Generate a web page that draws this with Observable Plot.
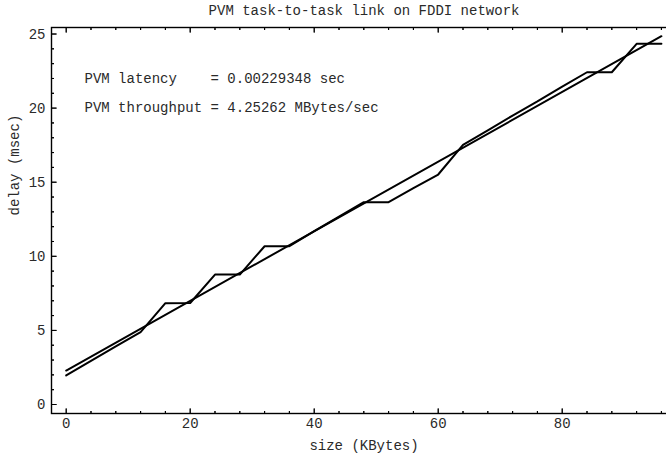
<!DOCTYPE html>
<html><head><meta charset="utf-8">
<script src="https://cdn.jsdelivr.net/npm/d3@7"></script>
<script src="https://cdn.jsdelivr.net/npm/@observablehq/plot@0.6"></script>
<style>
html,body{margin:0;padding:0;background:#fff;overflow:hidden}
svg text{white-space:pre}
</style>
</head><body><div id="chart"></div>
<script>
const title = "PVM task-to-task link on FDDI network";
const xLabel = "size (KBytes)";
const yLabel = "delay (msec)";
const notes = ["PVM latency    = 0.00229348 sec", "PVM throughput = 4.25262 MBytes/sec"];

// measured delays
const sizes    = [0, 4, 8, 12, 16, 20, 24, 28, 32, 36, 40, 44, 48, 52, 56, 60, 64, 68, 72, 76, 80, 84, 88, 92, 96];
const measured = [1.96, 2.94, 3.92, 4.88, 6.84, 6.85, 8.77, 8.77, 10.68, 10.68, 11.7, 12.68, 13.65, 13.65, 14.6, 15.52, 17.52, 18.5, 19.5, 20.45, 21.45, 22.42, 22.42, 24.34, 24.34];

// fitted line
const fitSizes = [0, 96];
const fitDelay = [2.29, 24.85];

const xMajor = [0, 20, 40, 60, 80];
const xMinor = [4, 8, 12, 16, 24, 28, 32, 36, 44, 48, 52, 56, 64, 68, 72, 76, 84, 88, 92, 96];
const yMajor = [0, 5, 10, 15, 20, 25];
const yMinor = [1, 2, 3, 4, 6, 7, 8, 9, 11, 12, 13, 14, 16, 17, 18, 19, 21, 22, 23, 24];

const measTable = sizes.map((s, i) => ({size: s, delay: measured[i]}));
const fitTable = fitSizes.map((s, i) => ({size: s, delay: fitDelay[i]}));

const font = "Liberation Mono, Courier New, monospace";
const textColor = "#2a2a2a";

// inward tick helper: a spike of zero width is a plain line segment
const tick = (data, channel, frameAnchor, rotate, length) =>
  Plot.vector(data, {
    [channel]: d => d, frameAnchor, rotate, length, anchor: "start",
    shape: "spike", r: 0, stroke: "#000", strokeWidth: 1, fill: "none"
  });

const chart = Plot.plot({
  width: 666,
  height: 457,
  marginLeft: 51,
  marginRight: 0,
  marginTop: 27,
  marginBottom: 44,
  style: {fontFamily: font, fontSize: "14px", color: "#000", background: "#fff"},
  x: {domain: [-2.37, 96.82], axis: null},
  y: {domain: [-0.607, 25.44], axis: null},
  marks: [
    Plot.frame({stroke: "#000", strokeWidth: 1.4, insetRight: -4}),
    // tick labels
    Plot.axisX(xMajor, {anchor: "bottom", tickSize: 0, tickPadding: 5, label: null, fill: textColor}),
    Plot.axisY(yMajor, {anchor: "left", tickSize: 0, tickPadding: 6, label: null, fill: textColor}),
    // inward ticks
    tick(xMajor, "x", "bottom", 0, 5),
    tick(xMinor, "x", "bottom", 0, 2.5),
    tick(xMajor, "x", "top", 180, 5),
    tick(xMinor, "x", "top", 180, 2.5),
    tick(yMajor, "y", "left", 90, 5),
    tick(yMinor, "y", "left", 90, 2.5),
    // data
    Plot.line(fitTable, {x: "size", y: "delay", stroke: "#000", strokeWidth: 2}),
    Plot.line(measTable, {x: "size", y: "delay", stroke: "#000", strokeWidth: 2}),
    // texts
    Plot.text([title], {frameAnchor: "top", dx: 5, dy: -17, lineAnchor: "middle", fill: textColor}),
    Plot.text([xLabel], {frameAnchor: "bottom", dx: 5, dy: 32, lineAnchor: "middle", fill: textColor}),
    Plot.text([yLabel], {frameAnchor: "left", dx: -37, dy: -5, rotate: -90, lineAnchor: "middle", fill: textColor}),
    Plot.text([notes[0]], {frameAnchor: "top-left", dx: 33, dy: 51, textAnchor: "start", lineAnchor: "middle", fill: textColor}),
    Plot.text([notes[1]], {frameAnchor: "top-left", dx: 33, dy: 80, textAnchor: "start", lineAnchor: "middle", fill: textColor})
  ]
});
document.getElementById("chart").appendChild(chart);
</script>
</body></html>
